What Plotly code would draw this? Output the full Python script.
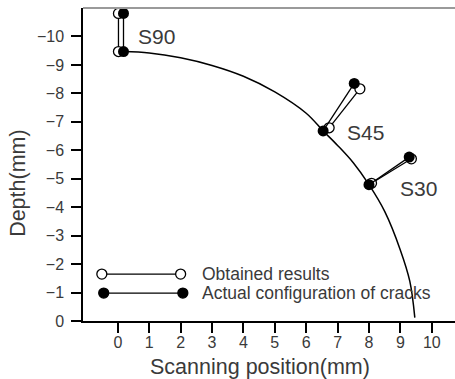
import plotly.graph_objects as go

# Crack labels
crack_labels = ["S90", "S45", "S30"]

# Actual configuration of cracks (start on surface -> tip), mm
actual_x_start = [0.18, 6.54, 8.00]
actual_y_start = [-9.47, -6.68, -4.79]
actual_x_end = [0.18, 7.53, 9.28]
actual_y_end = [-10.81, -8.35, -5.76]

# Obtained results
obtained_x_start = [0.02, 6.73, 8.08]
obtained_y_start = [-9.47, -6.79, -4.84]
obtained_x_end = [0.02, 7.71, 9.35]
obtained_y_end = [-10.81, -8.16, -5.70]

# Surface profile
surface_x = [0.18, 1.0, 2.0, 3.0, 4.0, 5.0, 6.0, 6.54, 7.0, 7.5, 8.0, 8.5, 9.0, 9.3, 9.46]
surface_y = [-9.47, -9.42, -9.25, -8.98, -8.6, -8.05, -7.3, -6.68, -6.17, -5.56, -4.79, -3.85, -2.49, -1.4, -0.12]

# Label positions
label_x = [1.24, 7.9, 9.59]
label_y = [-10.0, -6.63, -4.67]

x_ticks = list(range(0, 11))
y_ticks = list(range(0, -11, -1))
y_tick_text = ["0"] + ["\u2212" + str(-v) for v in y_ticks[1:]]

FONT = "Liberation Sans"
TXT = "#3a3a3a"

fig = go.Figure()

fig.add_trace(go.Scatter(x=surface_x, y=surface_y, mode="lines",
                         line=dict(color="black", width=1.5, shape="spline"),
                         showlegend=False, hoverinfo="skip"))

for i in range(len(crack_labels)):
    fig.add_trace(go.Scatter(
        x=[obtained_x_start[i], obtained_x_end[i]],
        y=[obtained_y_start[i], obtained_y_end[i]],
        mode="lines+markers",
        line=dict(color="black", width=1.3),
        marker=dict(size=10, color="white", line=dict(color="black", width=1.3)),
        showlegend=False))
for i in range(len(crack_labels)):
    fig.add_trace(go.Scatter(
        x=[actual_x_start[i], actual_x_end[i]],
        y=[actual_y_start[i], actual_y_end[i]],
        mode="lines+markers",
        line=dict(color="black", width=1.3),
        marker=dict(size=11, color="black", line=dict(color="black", width=0)),
        showlegend=False))

for i, lab in enumerate(crack_labels):
    fig.add_annotation(x=label_x[i], y=label_y[i], text=lab, showarrow=False,
                       font=dict(family=FONT, size=21, color=TXT),
                       xanchor="center", yanchor="middle")

# Legend drawn manually
shapes = []
leg = [(-1.65, "white", "Obtained results", -0.51, 2.0),
       (-0.98, "black", "Actual configuration of cracks", -0.45, 2.07)]
for yy, fill, txt, xa, xb in leg:
    shapes.append(dict(type="line", x0=xa, x1=xb, y0=yy, y1=yy, xref="x", yref="y",
                       line=dict(color="black", width=1.3)))
    for xx in (xa, xb):
        shapes.append(dict(type="circle", xref="x", yref="y", xsizemode="pixel",
                           ysizemode="pixel", xanchor=xx, yanchor=yy,
                           x0=-5, x1=5, y0=-5, y1=5, fillcolor=fill,
                           line=dict(color="black", width=1.3)))
    fig.add_annotation(x=2.61, y=yy, text=txt, showarrow=False, xanchor="left",
                       yanchor="middle", font=dict(family=FONT, size=17.5, color=TXT))

# Axis titles
fig.add_annotation(x=0.476, y=-0.146, xref="paper", yref="paper",
                   text="Scanning position(mm)", showarrow=False,
                   xanchor="center", yanchor="middle",
                   font=dict(family=FONT, size=21.5, color=TXT))
fig.add_annotation(x=-0.175, y=0.441, xref="paper", yref="paper",
                   text="Depth(mm)", showarrow=False, textangle=-90,
                   xanchor="center", yanchor="middle",
                   font=dict(family=FONT, size=21.5, color=TXT))

# top border (gray)
shapes.append(dict(type="line", xref="paper", yref="paper", x0=0, x1=1, y0=1, y1=1,
                   line=dict(color="#9a9a9a", width=2)))

fig.update_layout(
    width=455, height=379,
    margin=dict(l=83, r=0, t=8, b=58),
    paper_bgcolor="white", plot_bgcolor="white",
    shapes=shapes,
    font=dict(family=FONT, color=TXT),
    xaxis=dict(range=[-1.11, 10.74], tickvals=x_ticks, ticks="outside", ticklen=10,
               ticklabelstandoff=-4,
               tickwidth=1.5, tickcolor="black", showline=True, linecolor="black",
               linewidth=1.5, showgrid=False, zeroline=False,
               tickfont=dict(size=16, color=TXT)),
    yaxis=dict(range=[0, -11], tickvals=y_ticks, ticktext=y_tick_text,
               ticks="outside", ticklen=10, ticklabelstandoff=4,
               tickwidth=1.5, tickcolor="black", showline=True, linecolor="black",
               linewidth=1.5, showgrid=False, zeroline=False,
               tickfont=dict(size=16, color=TXT)),
)

fig.write_html("out.html")
